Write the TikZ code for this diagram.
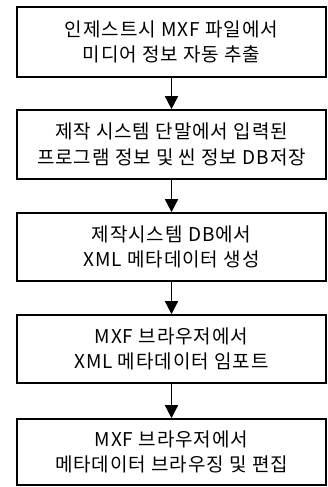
\documentclass[tikz,border=0pt]{standalone}
\usepackage{fontspec}
\newfontfamily\kr[LetterSpace=5]{Noto Sans CJK KR}
\usetikzlibrary{arrows.meta}
\begin{document}
\begin{tikzpicture}[x=1pt,y=-1pt,
  stepbox/.style={draw=black, line width=1.7pt, minimum width=309pt, align=center,
    inner sep=0pt, font=\kr\fontsize{19}{25.5}\selectfont},
  arr/.style={line width=1.7pt, -{Triangle[width=13pt,length=13pt]}}]
\useasboundingbox (0,0) rectangle (328,487);
\node[stepbox, minimum height=70pt] (b1) at (171.5,42) {인제스트시 MXF 파일에서\\미디어 정보 자동 추출};
\node[stepbox, minimum height=69pt] (b2) at (171.5,144.5) {제작 시스템 단말에서 입력된\\프로그램 정보 및 씬 정보 DB저장};
\node[stepbox, minimum height=68pt] (b3) at (171.5,247) {제작시스템 DB에서\\XML 메타데이터 생성};
\node[stepbox, minimum height=68pt] (b4) at (171.5,349) {MXF 브라우저에서\\XML 메타데이터 임포트};
\node[stepbox, minimum height=66pt] (b5) at (171.5,452) {MXF 브라우저에서\\메타데이터 브라우징 및 편집};
\draw[arr] (b1) -- (b2);
\draw[arr] (b2) -- (b3);
\draw[arr] (b3) -- (b4);
\draw[arr] (b4) -- (b5);
\end{tikzpicture}
\end{document}
